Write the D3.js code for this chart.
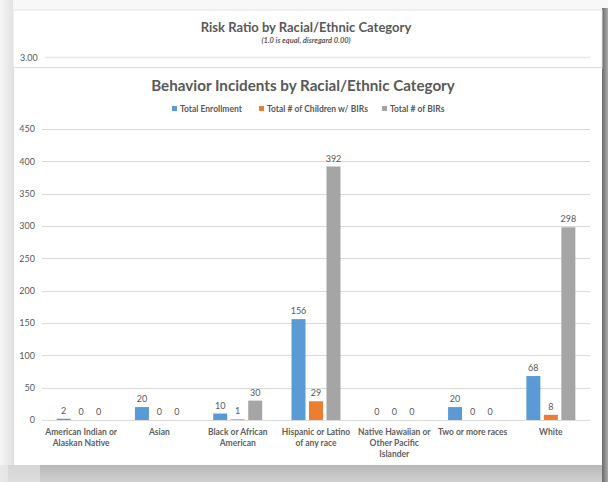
<!DOCTYPE html>
<html><head><meta charset="utf-8">
<script src="https://cdn.jsdelivr.net/npm/d3@7/dist/d3.min.js"></script>
<style>body{margin:0;background:#fff}svg{display:block}</style>
</head><body>
<svg id="c" width="608" height="482"></svg>
<script>
const categories = ["American Indian or Alaskan Native","Asian","Black or African American","Hispanic or Latino of any race","Native Hawaiian or Other Pacific Islander","Two or more races","White"];
const categoryLines = [["American Indian or","Alaskan Native"],["Asian"],["Black or African","American"],["Hispanic or Latino","of any race"],["Native Hawaiian or","Other Pacific","Islander"],["Two or more races"],["White"]];
const seriesNames = ["Total Enrollment","Total # of Children w/ BIRs","Total # of BIRs"];
const enrollment = [2,20,10,156,0,20,68];
const childrenBIRs = [0,0,1,29,0,0,8];
const totalBIRs = [0,0,30,392,0,0,298];
const yTicks = [0,50,100,150,200,250,300,350,400,450];
const colors = ["#5B9BD5","#ED7D31","#A5A5A5"];
const values = [enrollment, childrenBIRs, totalBIRs];

const font = "Lato, 'Open Sans', sans-serif";
const svg = d3.select("#c");
const defs = svg.append("defs");
const gb = defs.append("linearGradient").attr("id","gb").attr("x1",0).attr("x2",0).attr("y1",0).attr("y2",1);
gb.append("stop").attr("offset",0).attr("stop-color","#b8b8b8");
gb.append("stop").attr("offset",1).attr("stop-color","#d0d0d0");
const gr = defs.append("linearGradient").attr("id","gr").attr("x1",0).attr("x2",1);
gr.append("stop").attr("offset",0).attr("stop-color","#6a6a6a");
gr.append("stop").attr("offset",1).attr("stop-color","#acacac");
const gl = defs.append("linearGradient").attr("id","gl").attr("x1",0).attr("x2",1);
gl.append("stop").attr("offset",0).attr("stop-color","#f6f6f6");
gl.append("stop").attr("offset",1).attr("stop-color","#e2e2e2");

// page background & shadows
svg.append("rect").attr("width",608).attr("height",482).attr("fill","#f8f8f8");
svg.append("rect").attr("x",0).attr("y",0).attr("width",13).attr("height",482).attr("fill","url(#gl)");
svg.append("rect").attr("x",8).attr("y",465).attr("width",600).attr("height",17).attr("fill","url(#gb)");
svg.append("rect").attr("x",0).attr("y",465).attr("width",40).attr("height",17).attr("fill","#e2e2e2").attr("opacity",0.7);
svg.append("rect").attr("x",602).attr("y",8).attr("width",6).attr("height",474).attr("fill","url(#gr)");

// back card
svg.append("rect").attr("x",13).attr("y",10).attr("width",589).attr("height",58).attr("fill","#fff").attr("stroke","#e3e3e3");
svg.append("text").attr("x",306).attr("y",32).attr("text-anchor","middle").attr("font-family",font)
  .attr("font-size",13).attr("font-weight","bold").attr("fill","#595959").text("Risk Ratio by Racial/Ethnic Category");
svg.append("text").attr("x",306).attr("y",43).attr("text-anchor","middle").attr("font-family",font)
  .attr("font-size",7.5).attr("font-style","italic").attr("font-weight","bold").attr("fill","#595959").text("(1.0 is equal, disregard 0.00)");
svg.append("text").attr("x",20).attr("y",60.5).attr("font-family",font).attr("font-size",9).attr("fill","#595959").text("3.00");
svg.append("line").attr("x1",45).attr("x2",590).attr("y1",57.5).attr("y2",57.5).attr("stroke","#e6e6e6").attr("stroke-width",1.5);

// front card
svg.append("rect").attr("x",13).attr("y",67).attr("width",589).attr("height",398).attr("fill","#fff");
svg.append("line").attr("x1",13).attr("x2",602).attr("y1",67.5).attr("y2",67.5).attr("stroke","#dcdcdc");
svg.append("line").attr("x1",13.5).attr("x2",13.5).attr("y1",67).attr("y2",465).attr("stroke","#dedede");

svg.append("text").attr("x",303).attr("y",91).attr("text-anchor","middle").attr("font-family",font)
  .attr("font-size",15.2).attr("font-weight","bold").attr("fill","#595959").text("Behavior Incidents by Racial/Ethnic Category");

// legend
const legX = [172, 259, 382];
const leg = svg.append("g").selectAll("g").data(seriesNames).join("g")
  .attr("transform",(d,i)=>`translate(${legX[i]},112)`);
leg.append("rect").attr("x",0).attr("y",-6).attr("width",5).attr("height",5).attr("fill",(d,i)=>colors[i]);
leg.append("text").attr("x",8).attr("y",0).attr("font-family",font).attr("font-size",8.5).attr("font-weight","bold").attr("fill","#595959").text(d=>d);

// scales
const x0 = d3.scaleBand().domain(categories).range([42,590]);
const x1 = d3.scaleBand().domain(seriesNames).range([0,49]).paddingInner(0.2);
const y = d3.scaleLinear().domain([0,450]).range([420,129]);

// grid
const yAxis = d3.axisLeft(y).tickValues(yTicks).tickSize(0).tickPadding(0);
const gy = svg.append("g").attr("transform","translate(35,0)");
svg.append("g").selectAll("line").data(yTicks).join("line")
  .attr("x1",42).attr("x2",590).attr("y1",d=>Math.round(y(d))+0.5).attr("y2",d=>Math.round(y(d))+0.5)
  .attr("stroke","#d9d9d9");
gy.call(yAxis);
gy.select(".domain").remove();
gy.selectAll("text").attr("font-family",font).attr("font-size",9).attr("fill","#595959").attr("dy","0.32em");

// bars
const groups = svg.append("g").selectAll("g").data(categories).join("g")
  .attr("transform",d=>`translate(${x0(d)+x0.bandwidth()/2-24.5},0)`);
groups.selectAll("rect").data((d,ci)=>seriesNames.map((s,si)=>({s,si,v:values[si][ci]}))).join("rect")
  .attr("x",d=>x1(d.s)).attr("width",x1.bandwidth())
  .attr("y",d=>y(d.v)).attr("height",d=>y(0)-y(d.v))
  .attr("fill",d=>colors[d.si]);
groups.selectAll("text").data((d,ci)=>seriesNames.map((s,si)=>({s,si,v:values[si][ci]}))).join("text")
  .attr("x",d=>x1(d.s)+x1.bandwidth()/2).attr("y",d=>y(d.v)-5)
  .attr("text-anchor","middle").attr("font-family",font).attr("font-size",9).attr("fill","#595959")
  .text(d=>d.v);

// x labels
const xl = svg.append("g").selectAll("text").data(categories).join("text")
  .attr("x",d=>x0(d)+x0.bandwidth()/2).attr("y",435)
  .attr("text-anchor","middle").attr("font-family",font).attr("font-size",8.5).attr("font-weight","bold").attr("fill","#606060");
xl.each(function(d,i){
  const t = d3.select(this);
  categoryLines[i].forEach((l,j)=>t.append("tspan").attr("x",t.attr("x")).attr("dy",j?11:0).text(l));
});
</script>
</body></html>
